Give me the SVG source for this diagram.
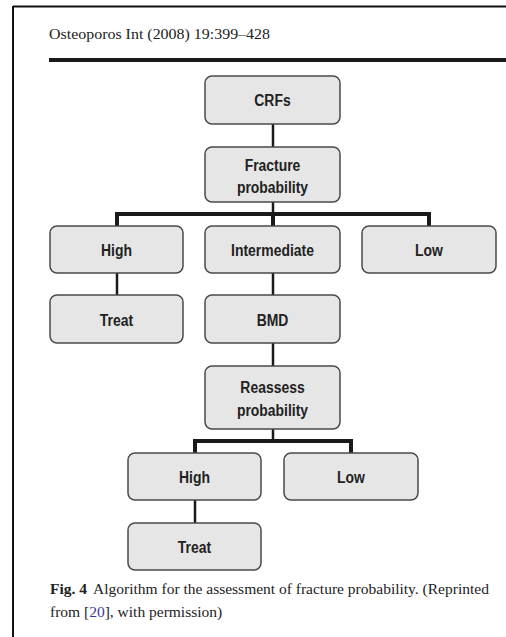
<svg xmlns="http://www.w3.org/2000/svg" width="506" height="637" viewBox="0 0 506 637">
<style>
.box{fill:#e6e6e6;stroke:#4a4a4a;stroke-width:1.5}
.lbl{font-family:"Liberation Sans",Arial,sans-serif;font-weight:bold;font-size:17px;fill:#222;text-anchor:middle}
.thin{stroke:#1a1a1a;stroke-width:2.5;fill:none}
.thick{stroke:#1a1a1a;stroke-width:4;fill:none}
.serif{font-family:"Liberation Serif","Times New Roman",serif;fill:#222}
</style>
<rect width="506" height="637" fill="#fff"/>
<g id="frame">
<line x1="13" y1="6.5" x2="506" y2="6.5" stroke="#111" stroke-width="2"/>
<line x1="13" y1="6" x2="13" y2="637" stroke="#111" stroke-width="2"/>
<text class="serif" x="49" y="39" font-size="15.5" textLength="221" lengthAdjust="spacingAndGlyphs">Osteoporos Int (2008) 19:399–428</text>
<line x1="49" y1="60" x2="506" y2="60" stroke="#1a1a1a" stroke-width="4"/>
</g>
<g id="connectors">
<line class="thin" x1="273" y1="124" x2="273" y2="147"/>
<line class="thin" x1="273" y1="202" x2="273" y2="214"/>
<polyline class="thick" points="117,226 117,214 429,214 429,226"/>
<line class="thick" x1="273" y1="214" x2="273" y2="226"/>
<line class="thin" x1="117" y1="273" x2="117" y2="295"/>
<line class="thin" x1="273" y1="273" x2="273" y2="295"/>
<line class="thin" x1="273" y1="343" x2="273" y2="366"/>
<line class="thin" x1="273" y1="429" x2="273" y2="441"/>
<polyline class="thick" points="195,453 195,441 351,441 351,453"/>
<line class="thin" x1="195" y1="500" x2="195" y2="523"/>
</g>
<g id="crfs">
<rect class="box" x="205" y="76" width="135" height="48" rx="7"/>
<text class="lbl" transform="translate(272.5,106) scale(0.82,1)">CRFs</text>
</g>
<g id="fracture-probability">
<rect class="box" x="205" y="147" width="135" height="55" rx="7"/>
<text class="lbl" transform="translate(272.5,171) scale(0.82,1)">Fracture</text>
<text class="lbl" transform="translate(272.5,193) scale(0.82,1)">probability</text>
</g>
<g id="high1">
<rect class="box" x="50" y="226" width="133" height="47" rx="7"/>
<text class="lbl" transform="translate(116.5,256) scale(0.82,1)">High</text>
</g>
<g id="intermediate">
<rect class="box" x="205" y="226" width="135" height="47" rx="7"/>
<text class="lbl" transform="translate(272.5,256) scale(0.82,1)">Intermediate</text>
</g>
<g id="low1">
<rect class="box" x="362" y="226" width="134" height="47" rx="7"/>
<text class="lbl" transform="translate(429,256) scale(0.82,1)">Low</text>
</g>
<g id="treat1">
<rect class="box" x="50" y="295" width="133" height="48" rx="7"/>
<text class="lbl" transform="translate(116.5,326) scale(0.82,1)">Treat</text>
</g>
<g id="bmd">
<rect class="box" x="205" y="295" width="135" height="48" rx="7"/>
<text class="lbl" transform="translate(272.5,326) scale(0.82,1)">BMD</text>
</g>
<g id="reassess">
<rect class="box" x="205" y="366" width="135" height="63" rx="7"/>
<text class="lbl" transform="translate(272.5,393) scale(0.82,1)">Reassess</text>
<text class="lbl" transform="translate(272.5,416) scale(0.82,1)">probability</text>
</g>
<g id="high2">
<rect class="box" x="128" y="453" width="133" height="47" rx="7"/>
<text class="lbl" transform="translate(194.5,483) scale(0.82,1)">High</text>
</g>
<g id="low2">
<rect class="box" x="284" y="453" width="134" height="47" rx="7"/>
<text class="lbl" transform="translate(351,483) scale(0.82,1)">Low</text>
</g>
<g id="treat2">
<rect class="box" x="128" y="523" width="133" height="47" rx="7"/>
<text class="lbl" transform="translate(194.5,553) scale(0.82,1)">Treat</text>
</g>
<g id="caption">
<text class="serif" x="50" y="594" font-size="15.5"><tspan font-weight="bold">Fig. 4</tspan><tspan dx="6">Algorithm for the assessment of fracture probability. (Reprinted</tspan></text>
<text class="serif" x="50" y="617" font-size="15.5">from [<tspan fill="#3a3a9a">20</tspan>], with permission)</text>
</g>
</svg>
